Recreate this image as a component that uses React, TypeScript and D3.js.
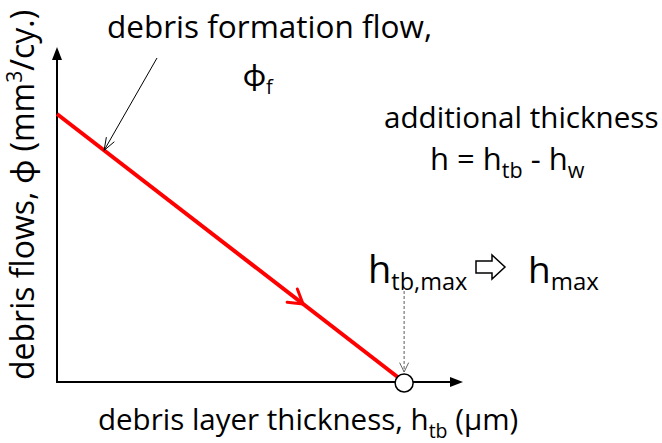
import React, { useEffect, useRef } from 'react'
import * as d3 from 'd3'

// schematic: debris flow vs. debris layer thickness (arbitrary units 0..100)
const hDomain = [0, 100]
const phiDomain = [0, 100]
const lineH = [0, 85.5]
const linePhi = [80, 0]
const flowArrowH = 60.6 // where the direction chevron sits on the red line
const leaderH = 11.6 // where the "debris formation flow" pointer hits the line
const hTbMax = 85.5

const FONT = "'Open Sans', Lato, sans-serif"

const App = () => {
  const svgRef = useRef<SVGSVGElement>(null)
  const width = 662
  const height = 443

  useEffect(() => {
    const svg = d3.select(svgRef.current)
    svg.selectAll('*').remove()

    const x = d3.scaleLinear().domain(hDomain).range([57, 463])
    const y = d3.scaleLinear().domain(phiDomain).range([382, 47])
    const phiAt = (h: number) => d3.scaleLinear().domain(lineH).range(linePhi)(h)

    const arrowHead = (g: any, tx: number, ty: number, angle: number, len: number, spread: number, color: string, sw: number) => {
      const back = angle + Math.PI
      const p1 = [tx + len * Math.cos(back - spread), ty + len * Math.sin(back - spread)]
      const p2 = [tx + len * Math.cos(back + spread), ty + len * Math.sin(back + spread)]
      g.append('path')
        .attr('d', `M${p1[0]},${p1[1]}L${tx},${ty}L${p2[0]},${p2[1]}`)
        .attr('fill', 'none')
        .attr('stroke', color)
        .attr('stroke-width', sw)
        .attr('stroke-linecap', 'round')
    }

    // axes
    const x0 = x(0), y0 = y(0), xEnd = x(hDomain[1]), yEnd = y(phiDomain[1])
    svg.append('line').attr('x1', x0).attr('y1', y0).attr('x2', xEnd - 10).attr('y2', y0)
      .attr('stroke', '#000').attr('stroke-width', 2)
    svg.append('path').attr('d', `M${xEnd},${y0}L${xEnd - 13},${y0 - 5}L${xEnd - 13},${y0 + 5}Z`).attr('fill', '#000')
    svg.append('line').attr('x1', x0).attr('y1', y0 + 1).attr('x2', x0).attr('y2', yEnd + 10)
      .attr('stroke', '#000').attr('stroke-width', 2)
    svg.append('path').attr('d', `M${x0},${yEnd}L${x0 - 5},${yEnd + 13}L${x0 + 5},${yEnd + 13}Z`).attr('fill', '#000')

    // red debris formation line
    const line = d3.line<number>().x((d) => x(lineH[d])).y((d) => y(linePhi[d]))
    svg.append('path').attr('d', line([0, 1]))
      .attr('fill', 'none').attr('stroke', '#ff0000').attr('stroke-width', 4)

    const ang = Math.atan2(y(linePhi[1]) - y(linePhi[0]), x(lineH[1]) - x(lineH[0]))
    arrowHead(svg, x(flowArrowH), y(phiAt(flowArrowH)), ang, 16, 0.55, '#ff0000', 3)

    // pointer from label to line
    const lx = x(leaderH), ly = y(phiAt(leaderH))
    const sx = 157, sy = 58
    svg.append('line').attr('x1', sx).attr('y1', sy).attr('x2', lx).attr('y2', ly)
      .attr('stroke', '#000').attr('stroke-width', 1)
    arrowHead(svg, lx, ly, Math.atan2(ly - sy, lx - sx), 13, 0.35, '#000', 1)

    // dashed pointer to h_tb,max
    const cx = x(hTbMax)
    svg.append('line').attr('x1', cx).attr('y1', 291).attr('x2', cx).attr('y2', y0 - 10)
      .attr('stroke', '#777').attr('stroke-width', 1.2).attr('stroke-dasharray', '3,2')
    arrowHead(svg, cx, y0 - 10, Math.PI / 2, 10, 0.45, '#666', 1)

    svg.append('circle').attr('cx', cx).attr('cy', y0 + 1).attr('r', 9)
      .attr('fill', '#fff').attr('stroke', '#000').attr('stroke-width', 1.5)

    // block arrow
    svg.append('path')
      .attr('d', 'M476,261L492,261L492,255L505,267L492,279L492,273L476,273Z')
      .attr('fill', '#fff').attr('stroke', '#000').attr('stroke-width', 1.5).attr('stroke-linejoin', 'miter')

    // texts
    const txt = (tx: number, ty: number, size: number, anchor = 'start') =>
      svg.append('text').attr('x', tx).attr('y', ty).attr('font-family', FONT)
        .attr('font-size', size).attr('fill', '#000').attr('text-anchor', anchor)

    const sub = (t: any, s: string, size: number, dy: number) => {
      t.append('tspan').attr('dy', dy).attr('font-size', size).text(s)
      return t
    }

    txt(107, 38, 31.5).text('debris formation flow,')
    const phiF = txt(243, 86, 31)
    phiF.append('tspan').text('ϕ')
    sub(phiF, 'f', 20, 8)

    txt(384, 128, 29.6).text('additional thickness')
    const eq = txt(430, 170, 31)
    eq.append('tspan').text('h = h')
    sub(eq, 'tb', 21.5, 8)
    eq.append('tspan').attr('dy', -8).text(' - h')
    sub(eq, 'w', 21.5, 8)

    const htb = txt(368, 283, 38)
    htb.append('tspan').text('h')
    sub(htb, 'tb,max', 23.5, 7)

    const hmax = txt(528, 283, 37)
    hmax.append('tspan').text('h')
    sub(hmax, 'max', 24, 7)

    const xl = txt(98, 430, 29.5)
    xl.append('tspan').text('debris layer thickness, h')
    sub(xl, 'tb', 19.5, 8)
    xl.append('tspan').attr('dy', -8).text(' (µm)')

    const yl = svg.append('text')
      .attr('transform', 'translate(34,380) rotate(-90)')
      .attr('font-family', FONT).attr('font-size', 32).attr('fill', '#000')
    yl.append('tspan').text('debris flows, ϕ (mm')
    yl.append('tspan').attr('dy', -12).attr('font-size', 21).text('3')
    yl.append('tspan').attr('dy', 12).text('/cy.)')
  }, [])

  return <svg ref={svgRef} width={width} height={height} style={{ display: 'block', position: 'absolute', left: 0, top: 0 }}></svg>
}

export default App
